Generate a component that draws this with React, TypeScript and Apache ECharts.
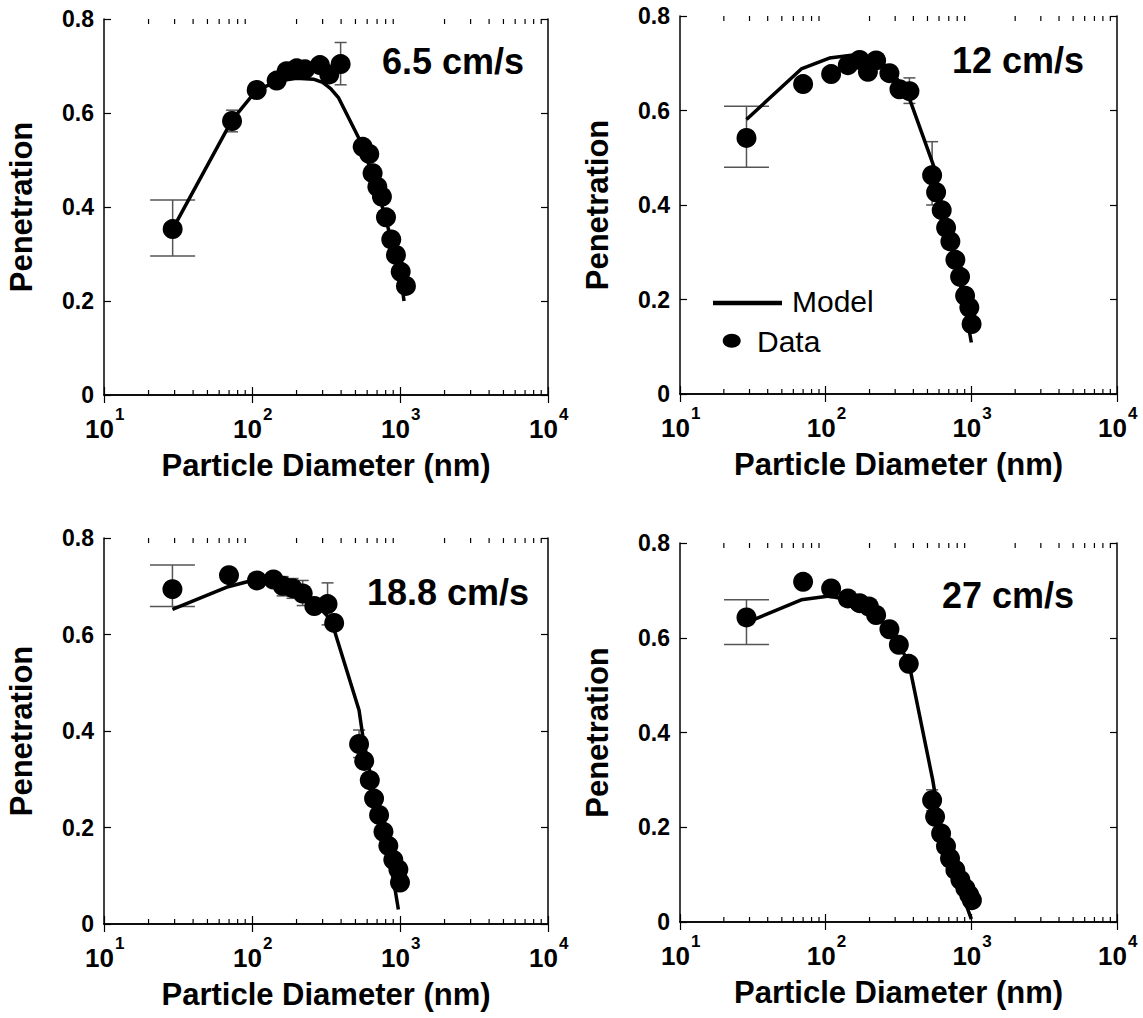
import React, { useEffect, useRef } from 'react';
import * as echarts from 'echarts';

const FONT = '"Liberation Sans", Arial, Helvetica, sans-serif';

const speedLabels = ['6.5 cm/s', '12 cm/s', '18.8 cm/s', '27 cm/s'];
const xTitle = 'Particle Diameter (nm)';
const yTitle = 'Penetration';

// Panel 1 (6.5 cm/s)
const p1DataD = [29.1, 73.3, 107.6, 146.8, 171.5, 200.4, 228, 287.7, 332.6, 397, 559.5, 620, 653, 703, 755, 804, 873, 939, 1011, 1097];
const p1DataP = [0.353, 0.583, 0.649, 0.669, 0.689, 0.695, 0.693, 0.702, 0.682, 0.704, 0.528, 0.513, 0.472, 0.443, 0.422, 0.378, 0.331, 0.298, 0.262, 0.232];
const p1ModelD = [29.1, 73.3, 107, 150, 200, 260, 300, 340, 385, 540, 600, 700, 800, 900, 1000, 1065];
const p1ModelP = [0.353, 0.585, 0.648, 0.668, 0.674, 0.672, 0.665, 0.652, 0.632, 0.54, 0.5, 0.44, 0.375, 0.315, 0.26, 0.2];
const p1ErrBig = [[29.1, 0.296, 0.415]];
const p1ErrSmall = [[73.3, 0.56, 0.606], [397, 0.66, 0.75]];

// Panel 2 (12 cm/s)
const p2DataD = [28.6, 70, 109, 142, 171, 195, 222, 274, 321, 376, 538, 573, 626, 671, 718, 777, 837, 906, 969, 1004];
const p2DataP = [0.542, 0.656, 0.677, 0.696, 0.707, 0.682, 0.706, 0.679, 0.645, 0.641, 0.463, 0.427, 0.389, 0.352, 0.323, 0.284, 0.248, 0.208, 0.183, 0.148];
const p2ModelD = [28.6, 68, 106, 160, 220, 280, 330, 376, 555, 620, 700, 800, 900, 1000];
const p2ModelP = [0.581, 0.688, 0.711, 0.718, 0.712, 0.685, 0.655, 0.625, 0.48, 0.41, 0.34, 0.26, 0.19, 0.109];
const p2ErrBig = [[28.6, 0.48, 0.609]];
const p2ErrSmall = [[376, 0.615, 0.669], [538, 0.4, 0.534]];

// Panel 3 (18.8 cm/s)
const p3DataD = [29, 69.9, 108, 139.6, 161, 188, 220, 263.6, 324, 359, 529, 573, 625, 668, 722, 773, 834, 901, 975, 1000];
const p3DataP = [0.694, 0.723, 0.712, 0.714, 0.701, 0.696, 0.685, 0.659, 0.663, 0.624, 0.373, 0.338, 0.298, 0.26, 0.226, 0.191, 0.162, 0.133, 0.113, 0.086];
const p3ModelD = [29, 69, 100, 140, 180, 220, 270, 320, 359, 529, 560, 640, 720, 800, 900, 975];
const p3ModelP = [0.652, 0.699, 0.712, 0.708, 0.697, 0.683, 0.663, 0.64, 0.61, 0.443, 0.39, 0.3, 0.225, 0.165, 0.095, 0.03];
const p3ErrBig = [[29, 0.658, 0.744]];
const p3ErrSmall = [[161, 0.68, 0.72], [188, 0.675, 0.716], [220, 0.66, 0.712], [324, 0.62, 0.707], [529, 0.345, 0.402]];

// Panel 4 (27 cm/s)
const p4DataD = [28.6, 70, 109, 142, 171, 198, 222, 274, 318, 372, 538, 564, 620, 670, 714, 777, 841, 910, 968, 1009];
const p4DataP = [0.643, 0.718, 0.704, 0.683, 0.673, 0.666, 0.648, 0.618, 0.585, 0.545, 0.257, 0.222, 0.187, 0.16, 0.134, 0.11, 0.089, 0.071, 0.057, 0.046];
const p4ModelD = [28.6, 68, 106, 140, 170, 200, 222, 274, 318, 372, 543, 600, 700, 800, 900, 1000];
const p4ModelP = [0.632, 0.68, 0.688, 0.68, 0.672, 0.662, 0.648, 0.617, 0.585, 0.548, 0.3, 0.22, 0.14, 0.09, 0.045, 0.006];
const p4ErrBig = [[28.6, 0.586, 0.68]];
const p4ErrSmall = [[538, 0.235, 0.279]];

const minorTickValues = [20, 30, 40, 50, 60, 70, 80, 90, 200, 300, 400, 500, 600, 700, 800, 900, 2000, 3000, 4000, 5000, 6000, 7000, 8000, 9000];

const panels = [
  { grid: { left: 104, top: 19, width: 444, height: 376 }, dD: p1DataD, dP: p1DataP, mD: p1ModelD, mP: p1ModelP, eb: p1ErrBig, es: p1ErrSmall, label: { x: 382, y: 61 } },
  { grid: { left: 680, top: 16, width: 437, height: 378 }, dD: p2DataD, dP: p2DataP, mD: p2ModelD, mP: p2ModelP, eb: p2ErrBig, es: p2ErrSmall, label: { x: 952, y: 60 } },
  { grid: { left: 104, top: 538, width: 444, height: 386 }, dD: p3DataD, dP: p3DataP, mD: p3ModelD, mP: p3ModelP, eb: p3ErrBig, es: p3ErrSmall, label: { x: 367, y: 592 } },
  { grid: { left: 680, top: 543, width: 437, height: 379 }, dD: p4DataD, dP: p4DataP, mD: p4ModelD, mP: p4ModelP, eb: p4ErrBig, es: p4ErrSmall, label: { x: 942, y: 595 } },
];

const zip = (a: number[], b: number[]) => a.map((v, i) => [v, b[i]]);

const errRender = (cap: number) => (params: any, api: any) => {
  const x = api.value(0);
  const pLo = api.coord([x, api.value(1)]);
  const pHi = api.coord([x, api.value(2)]);
  const st = { stroke: '#555', lineWidth: 1.5 };
  return {
    type: 'group',
    children: [
      { type: 'line', shape: { x1: pLo[0], y1: pLo[1], x2: pHi[0], y2: pHi[1] }, style: st },
      { type: 'line', shape: { x1: pHi[0] - cap / 2, y1: pHi[1], x2: pHi[0] + cap / 2, y2: pHi[1] }, style: st },
      { type: 'line', shape: { x1: pLo[0] - cap / 2, y1: pLo[1], x2: pLo[0] + cap / 2, y2: pLo[1] }, style: st },
    ],
  };
};

const minorRender = (params: any, api: any) => {
  const cs = params.coordSys;
  const x = api.coord([api.value(0), 0.4])[0];
  const st = { stroke: '#000', lineWidth: 1.2 };
  return {
    type: 'group',
    children: [
      { type: 'line', shape: { x1: x, y1: cs.y + cs.height, x2: x, y2: cs.y + cs.height - 5 }, style: st },
      { type: 'line', shape: { x1: x, y1: cs.y, x2: x, y2: cs.y + 5 }, style: st },
    ],
  };
};

function buildOption() {
  const grid: any[] = [];
  const xAxis: any[] = [];
  const yAxis: any[] = [];
  const series: any[] = [];
  const graphic: any[] = [];
  const axisLineStyle = { color: '#000', width: 1.5 };

  panels.forEach((p, i) => {
    grid.push({ ...p.grid, containLabel: false, outerBoundsMode: 'none' });
    const xBase = {
      type: 'log', logBase: 10, min: 10, max: 10000, gridIndex: i,
      axisLine: { show: true, lineStyle: axisLineStyle },
      axisTick: { show: true, inside: true, length: 8, lineStyle: { color: '#000', width: 1.2 } },
      minorTick: { show: false },
      splitLine: { show: false },
    };
    // main bottom axis: base "10"
    xAxis.push({
      ...xBase,
      position: 'bottom',
      axisLabel: {
        show: true, margin: 21, showMinLabel: true, showMaxLabel: true, hideOverlap: false,
        fontSize: 26, fontWeight: 'bold', fontFamily: FONT, color: '#000',
        padding: [0, 9, 0, 0],
        formatter: () => '10',
      },
      name: xTitle,
      nameLocation: 'middle',
      nameGap: 55,
      nameTextStyle: { fontSize: 31, fontWeight: 'bold', fontFamily: FONT, color: '#000' },
    });
    // top mirror axis
    xAxis.push({ ...xBase, position: 'top', axisLabel: { show: false } });
    // exponent (superscript) labels
    xAxis.push({
      ...xBase,
      position: 'bottom',
      axisLine: { show: false },
      axisTick: { show: false },
      axisLabel: {
        show: true, margin: 11, showMinLabel: true, showMaxLabel: true, hideOverlap: false,
        fontSize: 17, fontWeight: 'bold', fontFamily: FONT, color: '#000',
        align: 'left', padding: [0, 0, 0, 11],
        formatter: (v: number) => String(Math.round(Math.log10(v))),
      },
    });
    const yBase = {
      type: 'value', min: 0, max: 0.8, interval: 0.2, gridIndex: i,
      axisLine: { show: true, lineStyle: axisLineStyle },
      axisTick: { show: true, inside: true, length: 7, lineStyle: { color: '#000', width: 1.2 } },
      splitLine: { show: false },
    };
    yAxis.push({
      ...yBase,
      position: 'left',
      axisLabel: {
        show: true, margin: 10, fontSize: 23, fontWeight: 'bold', fontFamily: FONT, color: '#000',
        formatter: (v: number) => (Math.abs(v) < 1e-9 ? '0' : v.toFixed(1)),
      },
      name: yTitle,
      nameLocation: 'middle',
      nameRotate: 90,
      nameGap: 67,
      nameTextStyle: { fontSize: 31, fontWeight: 'bold', fontFamily: FONT, color: '#000' },
    });
    yAxis.push({ ...yBase, position: 'right', axisLabel: { show: false } });

    const xi = 3 * i;
    const yi = 2 * i;
    series.push({
      type: 'custom', xAxisIndex: xi, yAxisIndex: yi, renderItem: minorRender,
      data: minorTickValues.map((v) => [v, 0.4]), silent: true, z: 1, clip: false,
    });
    series.push({
      type: 'custom', xAxisIndex: xi, yAxisIndex: yi, renderItem: errRender(45),
      encode: { x: 0, y: [1, 2] }, data: p.eb, z: 2, clip: false,
    });
    series.push({
      type: 'custom', xAxisIndex: xi, yAxisIndex: yi, renderItem: errRender(12),
      encode: { x: 0, y: [1, 2] }, data: p.es, z: 2, clip: false,
    });
    series.push({
      type: 'line', name: 'Model', xAxisIndex: xi, yAxisIndex: yi, data: zip(p.mD, p.mP),
      symbol: 'none', lineStyle: { color: '#000', width: 3.5, opacity: 1 }, z: 3,
    });
    series.push({
      type: 'scatter', name: 'Data', xAxisIndex: xi, yAxisIndex: yi, data: zip(p.dD, p.dP),
      symbol: 'circle', symbolSize: 20, itemStyle: { color: '#000', opacity: 1 }, z: 4,
    });

    graphic.push({
      type: 'text', x: p.label.x, y: p.label.y,
      style: { text: speedLabels[i], fontSize: 36, fontWeight: 'bold', fontFamily: FONT, fill: '#000', align: 'left', verticalAlign: 'middle' },
    });
  });

  // Legend in panel 2
  graphic.push({ type: 'line', shape: { x1: 713, y1: 303, x2: 782, y2: 303 }, style: { stroke: '#000', lineWidth: 4.5 } });
  graphic.push({ type: 'text', x: 792, y: 301, style: { text: 'Model', fontSize: 30, fontFamily: FONT, fill: '#000', align: 'left', verticalAlign: 'middle' } });
  graphic.push({ type: 'ellipse', shape: { cx: 731.7, cy: 340.7, rx: 9, ry: 7 }, style: { fill: '#000' } });
  graphic.push({ type: 'text', x: 757, y: 341, style: { text: 'Data', fontSize: 30, fontFamily: FONT, fill: '#000', align: 'left', verticalAlign: 'middle' } });

  return {
    animation: false,
    backgroundColor: '#fff',
    textStyle: { fontFamily: FONT },
    grid, xAxis, yAxis, series, graphic,
  };
}

export default function App() {
  const ref = useRef<HTMLDivElement>(null);
  useEffect(() => {
    if (!ref.current) return;
    const chart = echarts.init(ref.current, undefined, { renderer: 'svg' });
    chart.setOption(buildOption() as any);
    return () => chart.dispose();
  }, []);
  return <div ref={ref} style={{ position: 'absolute', left: 0, top: 0, width: 1143, height: 1018, background: '#fff' }} />;
}
